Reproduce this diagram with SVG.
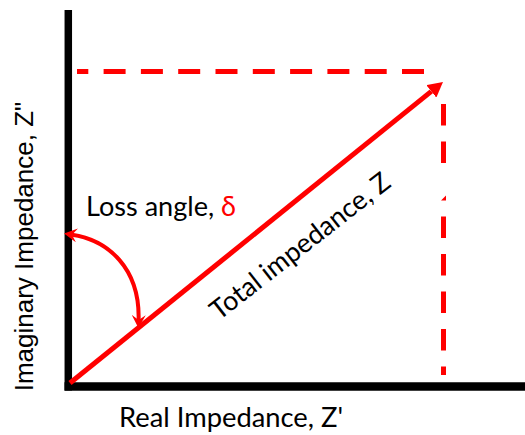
<svg xmlns="http://www.w3.org/2000/svg" width="525" height="435" viewBox="0 0 525 435">
  <style>
    .axis { stroke: #000; fill: none; }
    .dash { stroke: #FF0000; stroke-width: 5; fill: none; }
    .red { stroke: #FF0000; fill: none; }
    .lbl { font-family: Lato, "Open Sans", "DejaVu Sans", sans-serif; font-size: 27px; fill: #000; }
    .ylbl { font-family: "Liberation Sans", Arial, sans-serif; font-size: 26px; fill: #000; }
  </style>
  <defs>
    <marker id="tri" viewBox="0 0 15 16" refX="0" refY="8" markerWidth="15" markerHeight="16" markerUnits="userSpaceOnUse" orient="auto">
      <path d="M0,0 L15,8 L0,16 Z" fill="#FF0000"/>
    </marker>
    <marker id="open" viewBox="0 0 14 14" refX="5" refY="7" markerWidth="14" markerHeight="14" markerUnits="userSpaceOnUse" orient="auto-start-reverse">
      <path d="M13,7 L0,0 L5,7 L0,14 Z" fill="#FF0000"/>
    </marker>
  </defs>
  <rect width="525" height="435" fill="#fff"/>

  <g id="axes">
    <line class="axis" x1="68.3" y1="10" x2="68.3" y2="390.5" stroke-width="7.5"/>
    <line class="axis" x1="64.5" y1="386.5" x2="525" y2="386.5" stroke-width="8.4"/>
  </g>

  <g id="projections">
    <line class="dash" x1="424" y1="71.5" x2="77" y2="71.5" stroke-dasharray="22 15.3"/>
    <line class="dash" x1="443.5" y1="104" x2="443.5" y2="163" stroke-dasharray="21.5 16"/>
    <line class="dash" x1="443.5" y1="216.5" x2="443.5" y2="375" stroke-dasharray="21.5 16"/>
    <polygon points="441,200.5 446,200.5 446,195.5" fill="#FF0000"/>
  </g>

  <g id="connectors">
    <line id="total-impedance" class="red" x1="70" y1="383" x2="431.3" y2="91.4" stroke-width="5" marker-end="url(#tri)"/>
    <path id="loss-angle-arc" class="red" d="M72,234.7 C108,240 140,268 138.6,320" stroke-width="4" marker-start="url(#open)" marker-end="url(#open)"/>
  </g>

  <g id="label-loss-angle">
    <text class="lbl" x="86" y="215.5" textLength="150" lengthAdjust="spacingAndGlyphs">Loss angle, <tspan fill="#FF0000">δ</tspan></text>
  </g>
  <g id="label-total">
    <text class="lbl" transform="translate(219,321) rotate(-38)" x="0" y="0" textLength="220" lengthAdjust="spacingAndGlyphs">Total impedance, Z</text>
  </g>
  <g id="label-x">
    <text class="lbl" x="119" y="427" textLength="224" lengthAdjust="spacingAndGlyphs">Real Impedance, Z'</text>
  </g>
  <g id="label-y">
    <text class="ylbl" transform="translate(33,246.5) rotate(-90)" x="0" y="0" text-anchor="middle">Imaginary Impedance, Z"</text>
  </g>
</svg>
